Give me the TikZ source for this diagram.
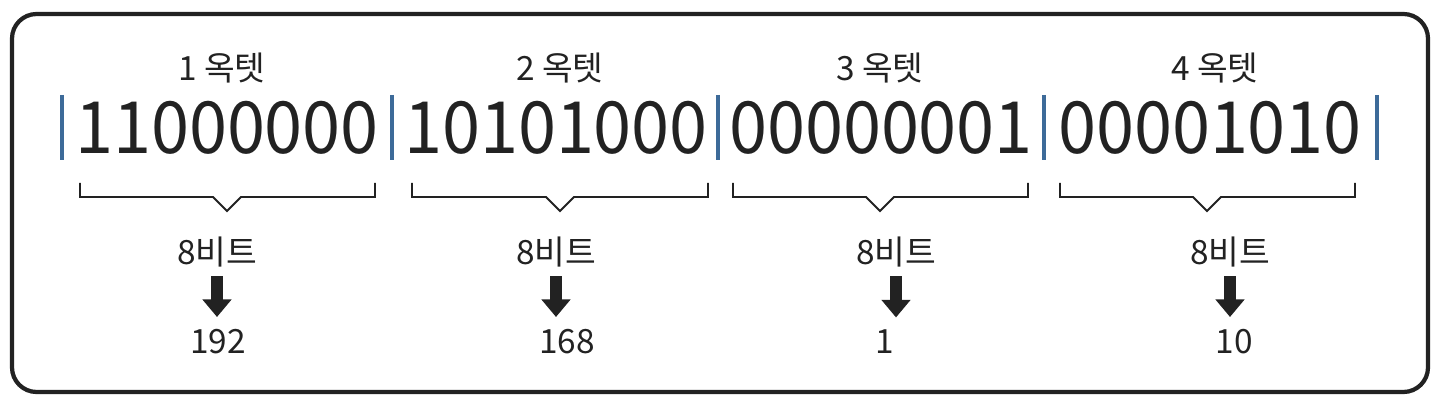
\documentclass[tikz,border=0pt]{standalone}
\usepackage{fontspec}
\setmainfont{Noto Sans CJK KR}
\usetikzlibrary{arrows.meta}
\definecolor{barblue}{HTML}{3D6B99}
\definecolor{ink}{HTML}{222222}

\begin{document}
\begin{tikzpicture}[x=0.02cm,y=-0.02cm]
    \tikzset{bits/.style={text=ink, inner sep=0pt, xscale=0.95, font=\fontsize{41}{41}\selectfont},
      octet/.style={text=ink, inner sep=0pt, font=\fontsize{19}{19}\selectfont},
      label/.style={text=ink, inner sep=0pt, font=\fontsize{19}{19}\selectfont},
      bar/.style={draw=barblue, line width=2.2pt},
      brace/.style={draw=ink, line width=1.1pt},
      down/.style={draw=ink, line width=6.5pt, shorten <=5pt, shorten >=7pt,
        -{Triangle[width=16pt,length=10pt]}},
    }
    \useasboundingbox (0,0) rectangle (1440,405);
    \draw[line width=2.4pt, rounded corners=14pt, ink] (12,14) rectangle (1428,392);

    % octet names
    \node[octet] at (222,68) (o1) {1 옥텟};
    \node[octet] at (560,68) (o2) {2 옥텟};
    \node[octet] at (880,68) (o3) {3 옥텟};
    \node[octet] at (1215,68) (o4) {4 옥텟};

    % binary values
    \node[bits] at (227,128) (b1) {11000000};
    \node[bits] at (556,128) (b2) {10101000};
    \node[bits] at (881,128) (b3) {00000001};
    \node[bits] at (1210,128) (b4) {00001010};

    \draw[bar] (62,95) -- (62,160);
    \draw[bar] (392,95) -- (392,160);
    \draw[bar] (718,95) -- (718,160);
    \draw[bar] (1044,95) -- (1044,160);
    \draw[bar] (1377,95) -- (1377,160);

    % braces
    \draw[brace] (80,183) -- (80,197) -- (213,197) -- (227,211) -- (241,197) -- (375,197) -- (375,183);
    \draw[brace] (412,183) -- (412,197) -- (546,197) -- (560,211) -- (574,197) -- (708,197) -- (708,183);
    \draw[brace] (733,183) -- (733,197) -- (866,197) -- (880,211) -- (894,197) -- (1028,197) -- (1028,183);
    \draw[brace] (1060,183) -- (1060,197) -- (1193,197) -- (1207,211) -- (1221,197) -- (1355,197) -- (1355,183);

    % bit counts and decimal values
    \node[label] at (217,252) (c1) {8비트};
    \node[label] at (556,252) (c2) {8비트};
    \node[label] at (896,252) (c3) {8비트};
    \node[label] at (1230,252) (c4) {8비트};

    \node[label] at (218,342) (d1) {192};
    \node[label] at (567,342) (d2) {168};
    \node[label] at (885,342) (d3) {1};
    \node[label] at (1234,342) (d4) {10};

    \draw[down] (c1.south) -- (c1.south |- d1.north);
    \draw[down] (c2.south) -- (c2.south |- d2.north);
    \draw[down] (c3.south) -- (c3.south |- d3.north);
    \draw[down] (c4.south) -- (c4.south |- d4.north);
\end{tikzpicture}
\end{document}
